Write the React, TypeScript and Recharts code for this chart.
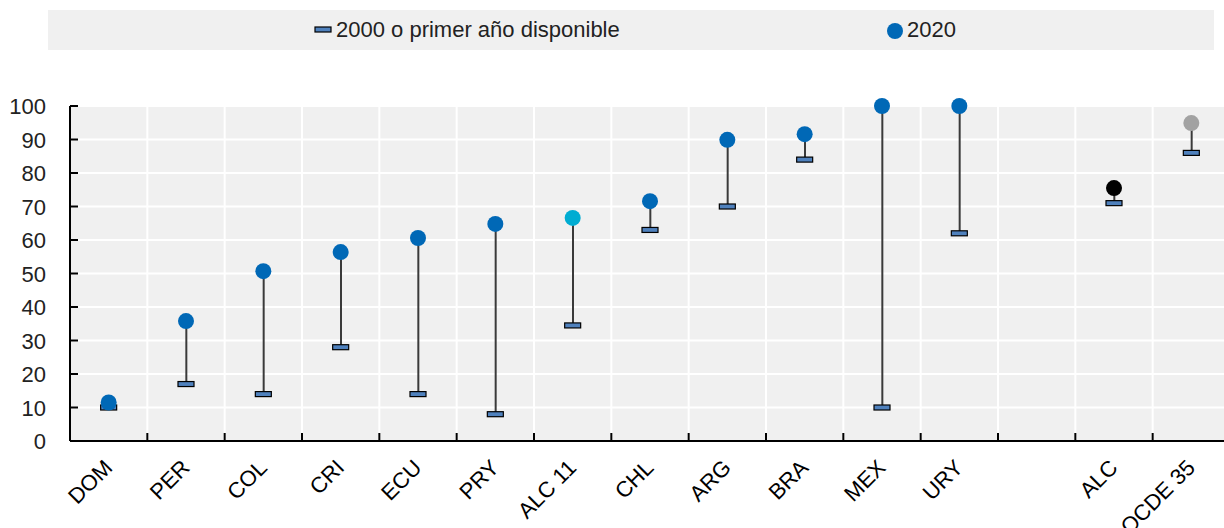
import React from "react";
import {
  Bar,
  CartesianGrid,
  ComposedChart,
  Scatter,
  XAxis,
  YAxis,
} from "recharts";

const categories = ["DOM", "PER", "COL", "CRI", "ECU", "PRY", "ALC 11", "CHL", "ARG", "BRA", "MEX", "URY", "", "ALC", "OCDE 35"];
const firstYear = [10, 17, 14, 28, 14, 8, 34.5, 63, 70, 84, 10, 62, null, 71, 86];
const year2020 = [11.5, 35.8, 50.7, 56.4, 60.6, 64.8, 66.6, 71.6, 89.9, 91.6, 100, 100, null, 75.5, 94.9];
const yTicks = [0, 10, 20, 30, 40, 50, 60, 70, 80, 90, 100];
// slot boundaries (one slot per category)
const slotTicks = categories.map((_, i) => i).concat(categories.length);

const BLUE = "#0068b6";
const dotColor: Record<string, string> = {
  "ALC 11": "#00acd2",
  ALC: "#000000",
  "OCDE 35": "#a2a2a2",
};

const FONT = "'Liberation Sans', Arial, sans-serif";

const data = categories.map((name, i) => ({
  name,
  pos: i + 0.5,
  first: firstYear[i],
  latest: year2020[i],
}));

function YTick(props: any) {
  const { x, y, payload } = props;
  return (
    <g>
      <line x1={x + 24} x2={x + 32} y1={y} y2={y} stroke="#000" strokeWidth={2} />
      <text x={x} y={y} dy={8} textAnchor="end" fontSize={22} fill="#222" fontFamily={FONT}>
        {payload.value}
      </text>
    </g>
  );
}

// tick at each slot boundary + the label of the slot to its right
function SlotTick(props: any) {
  const { x, y, payload, width } = props;
  const i = payload.value;
  const half = width / categories.length / 2;
  const label = categories[i];
  const tx = x + half + 5;
  const ty = y + 28;
  return (
    <g>
      {i > 0 && i < categories.length && (
        <line x1={x} x2={x} y1={y} y2={y - 8} stroke="#000" strokeWidth={2} />
      )}
      {label && (
        <text
          x={tx}
          y={ty}
          textAnchor="end"
          fontSize={22}
          fill="#000"
          fontFamily={FONT}
          transform={`rotate(-45, ${tx}, ${ty})`}
        >
          {label}
        </text>
      )}
    </g>
  );
}

function StartMark(props: any) {
  const { cx, cy, payload } = props;
  if (cx == null || cy == null || payload?.first == null) return <g />;
  return <rect x={cx - 8} y={cy - 2.5} width={16} height={5} fill="#4f81bd" stroke="#000" strokeWidth={1.2} />;
}

function EndDot(props: any) {
  const { cx, cy, payload } = props;
  if (cx == null || cy == null || payload?.latest == null) return <g />;
  return <circle cx={cx} cy={cy} r={8} fill={dotColor[payload.name] ?? BLUE} />;
}

export default function App() {
  return (
    <div
      style={{
        position: "absolute",
        left: 0,
        top: 0,
        width: 1224,
        height: 528,
        overflow: "hidden",
        background: "#fff",
      }}
    >
      <div
        style={{
          position: "absolute",
          left: 48,
          top: 10,
          width: 1166,
          height: 40,
          background: "#f0f0f0",
          fontFamily: FONT,
          fontSize: 22,
          color: "#222",
        }}
      >
        <svg style={{ position: "absolute", left: 266, top: 16 }} width={18} height={8}>
          <rect x={1} y={1} width={16} height={5} fill="#4f81bd" stroke="#000" strokeWidth={1.2} />
        </svg>
        <span style={{ position: "absolute", left: 288, top: 7 }}>2000 o primer año disponible</span>
        <svg style={{ position: "absolute", left: 838, top: 12 }} width={18} height={18}>
          <circle cx={9} cy={9} r={8} fill={BLUE} />
        </svg>
        <span style={{ position: "absolute", left: 859, top: 7 }}>2020</span>
      </div>
      <div style={{ position: "absolute", left: 0, top: 0 }}>
        {/* plot runs slightly past the right edge of the picture, as in the source */}
        <ComposedChart
          width={1230}
          height={528}
          data={data}
          margin={{ top: 106, right: 0, left: 0, bottom: 0 }}
        >
          <CartesianGrid stroke="#ffffff" strokeWidth={2} fill="#f0f0f0" fillOpacity={1} />
          <XAxis
            dataKey="pos"
            type="number"
            domain={[0, categories.length]}
            ticks={slotTicks}
            interval={0}
            height={87}
            axisLine={{ stroke: "#000", strokeWidth: 2 }}
            tickLine={false}
            tickSize={0}
            tickMargin={0}
            tick={<SlotTick />}
            allowDataOverflow
          />
          <YAxis
            domain={[0, 100]}
            ticks={yTicks}
            width={70}
            axisLine={{ stroke: "#000", strokeWidth: 2 }}
            tickLine={false}
            tickSize={0}
            tickMargin={24}
            tick={<YTick />}
            interval={0}
          />
          <Bar
            dataKey={(d: any) => (d.first == null ? null : [d.first, d.latest])}
            fill="#3a3a3a"
            barSize={2}
            isAnimationActive={false}
          />
          <Scatter dataKey="first" shape={<StartMark />} isAnimationActive={false} />
          <Scatter dataKey="latest" shape={<EndDot />} isAnimationActive={false} />
        </ComposedChart>
      </div>
    </div>
  );
}
